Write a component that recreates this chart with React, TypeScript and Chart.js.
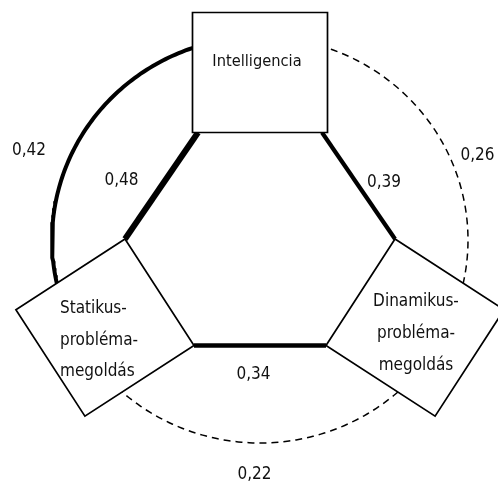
import React, { useEffect, useRef } from "react";
import { Chart, registerables } from "chart.js";

Chart.register(...registerables);

// ---- data ----
const nodeLabels: string[][] = [
  ["Intelligencia"],
  ["Statikus-", "probléma-", "megoldás"],
  ["Dinamikus-", "probléma-", "megoldás"],
];
// direct links (hexagon sides): Int–Stat, Int–Din, Stat–Din
const directPairs: [number, number][] = [[0, 1], [0, 2], [1, 2]];
const directValues: number[] = [0.48, 0.39, 0.34];
// outer links (circle arcs): Int–Stat, Int–Din, Stat–Din
const arcPairs: [number, number][] = [[0, 1], [0, 2], [1, 2]];
const arcValues: number[] = [0.42, 0.26, 0.22];

// ---- layout / style (not data) ----
const X_MIN = -2.6, X_MAX = 2.38, Y_MIN = -2.42, Y_MAX = 2.39;
const HEX = { halfW: 1.35, topHalf: 0.62, botHalf: 0.66, halfH: 1.065 };
const ELL = { cx: 0, cy: -0.01, rx: 2.08, ry: 2.03 };
const NODE_ANGLE = [90, 210, 330];
const ARC_GAP = 10;
const directWidths = [6, 4.2, 4.5];
const arcWidths = [4, 1.5, 1.5];
const arcDashed = [false, true, true];
const FONT = '17px "DejaVu Sans Condensed", "DejaVu Sans", sans-serif';
const FONT_INT = '16.3px "DejaVu Sans Condensed", "DejaVu Sans", sans-serif';
// label anchors [x, baseline y, align]
const nodeTextPos: [number, number, CanvasTextAlign, number][] = [
  [-0.03, 1.73, "center", 0.315],
  [-2.0, -0.74, "left", 0.315],
  [1.56, -0.67, "center", 0.32],
];
const directLabelPos: [number, number][] = [[-1.385, 0.54], [1.24, 0.525], [-0.065, -1.40]];
const arcLabelPos: [number, number][] = [[-2.31, 0.84], [2.175, 0.79], [-0.055, -2.40]];

type P = { x: number; y: number };
const V = {
  topL: { x: -HEX.topHalf, y: HEX.halfH },
  topR: { x: HEX.topHalf, y: HEX.halfH },
  R: { x: HEX.halfW, y: 0 },
  botR: { x: HEX.botHalf, y: -HEX.halfH },
  botL: { x: -HEX.botHalf, y: -HEX.halfH },
  L: { x: -HEX.halfW, y: 0 },
};
// edge on which each node box sits, with extension and depth
const nodeEdges: [P, P, number, number][] = [
  [V.topL, V.topR, 0.055, 1.2],
  [V.L, V.botL, 0, 1.3],
  [V.botR, V.R, 0, 1.3],
];
// vertex where each direct link meets a node: pair index -> [start, end]
const directEnds: [P, P][] = [
  [V.topL, V.L],
  [V.topR, V.R],
  [V.botL, V.botR],
];

function boxCorners(a: P, b: P, ext: number, depth: number): P[] {
  const dx = b.x - a.x, dy = b.y - a.y;
  const len = Math.hypot(dx, dy);
  const ux = dx / len, uy = dy / len;
  let nx = uy, ny = -ux;
  const mx = (a.x + b.x) / 2, my = (a.y + b.y) / 2;
  if (nx * mx + ny * my < 0) { nx = -nx; ny = -ny; }
  const a2 = { x: a.x - ux * ext, y: a.y - uy * ext };
  const b2 = { x: b.x + ux * ext, y: b.y + uy * ext };
  return [a2, b2, { x: b2.x + nx * depth, y: b2.y + ny * depth }, { x: a2.x + nx * depth, y: a2.y + ny * depth }];
}

function arcPoints(i: number, j: number): P[] {
  let a0 = NODE_ANGLE[i], a1 = NODE_ANGLE[j];
  // go the short way between the two node angles
  let d = a1 - a0;
  while (d > 180) d -= 360;
  while (d < -180) d += 360;
  const s = Math.sign(d);
  const start = a0 + s * ARC_GAP;
  const end = a0 + d - s * ARC_GAP;
  const pts: P[] = [];
  const n = Math.ceil(Math.abs(end - start));
  for (let k = 0; k <= n; k++) {
    const t = ((start + (end - start) * (k / n)) * Math.PI) / 180;
    pts.push({ x: ELL.cx + ELL.rx * Math.cos(t), y: ELL.cy + ELL.ry * Math.sin(t) });
  }
  return pts;
}

const fmt = (v: number) => v.toFixed(2).replace(".", ",");

const overlayPlugin = {
  id: "overlay",
  afterDatasetsDraw(chart: any) {
    const ctx: CanvasRenderingContext2D = chart.ctx;
    const xs = chart.scales.x, ys = chart.scales.y;
    const px = (p: P) => [xs.getPixelForValue(p.x), ys.getPixelForValue(p.y)];
    ctx.save();
    // boxes
    nodeEdges.forEach(([a, b, ext, depth]) => {
      const c = boxCorners(a, b, ext, depth).map(px);
      ctx.beginPath();
      ctx.moveTo(c[0][0], c[0][1]);
      for (let k = 1; k < 4; k++) ctx.lineTo(c[k][0], c[k][1]);
      ctx.closePath();
      ctx.fillStyle = "#ffffff";
      ctx.fill();
      ctx.strokeStyle = "#000000";
      ctx.lineWidth = 1.7;
      ctx.lineJoin = "miter";
      ctx.stroke();
    });
    // node labels
    ctx.fillStyle = "#111111";
    ctx.textBaseline = "alphabetic";
    nodeLabels.forEach((lines, i) => {
      const [x, y, align, step] = nodeTextPos[i];
      ctx.font = i === 0 ? FONT_INT : FONT;
      ctx.textAlign = align;
      lines.forEach((line, k) => {
        const [X, Y] = px({ x, y: y - k * step });
        ctx.fillText(line, X, Y);
      });
    });
    // value labels
    ctx.font = FONT;
    ctx.textAlign = "center";
    directValues.forEach((v, i) => {
      const [X, Y] = px({ x: directLabelPos[i][0], y: directLabelPos[i][1] });
      ctx.fillText(fmt(v), X, Y);
    });
    arcValues.forEach((v, i) => {
      const [X, Y] = px({ x: arcLabelPos[i][0], y: arcLabelPos[i][1] });
      ctx.fillText(fmt(v), X, Y);
    });
    ctx.restore();
  },
};

export default function App() {
  const ref = useRef<HTMLCanvasElement | null>(null);
  useEffect(() => {
    if (!ref.current) return;
    const datasets: any[] = [];
    arcPairs.forEach(([i, j], k) => {
      datasets.push({
        label: "arc " + fmt(arcValues[k]),
        data: arcPoints(i, j),
        showLine: true,
        borderColor: "#000000",
        borderWidth: arcWidths[k],
        borderDash: arcDashed[k] ? [7, 5] : [],
        pointRadius: 0,
        fill: false,
        clip: false,
        tension: 0,
      });
    });
    directPairs.forEach((_, k) => {
      const [a, b] = directEnds[k];
      datasets.push({
        label: "direct " + fmt(directValues[k]),
        data: [a, b],
        showLine: true,
        borderColor: "#000000",
        borderWidth: directWidths[k],
        pointRadius: 0,
        fill: false,
        clip: false,
      });
    });
    const chart = new Chart(ref.current, {
      type: "scatter",
      data: { datasets },
      options: {
        animation: false,
        responsive: false,
        maintainAspectRatio: false,
        events: [],
        layout: { padding: 0 },
        plugins: { legend: { display: false }, tooltip: { enabled: false } },
        scales: {
          x: { type: "linear", display: false, min: X_MIN, max: X_MAX },
          y: { type: "linear", display: false, min: Y_MIN, max: Y_MAX },
        },
      },
      plugins: [overlayPlugin],
    } as any);
    return () => chart.destroy();
  }, []);
  return (
    <div style={{ position: "fixed", left: 0, top: 0, width: 498, height: 481, background: "#fff" }}>
      <canvas ref={ref} width={498} height={481} />
    </div>
  );
}
